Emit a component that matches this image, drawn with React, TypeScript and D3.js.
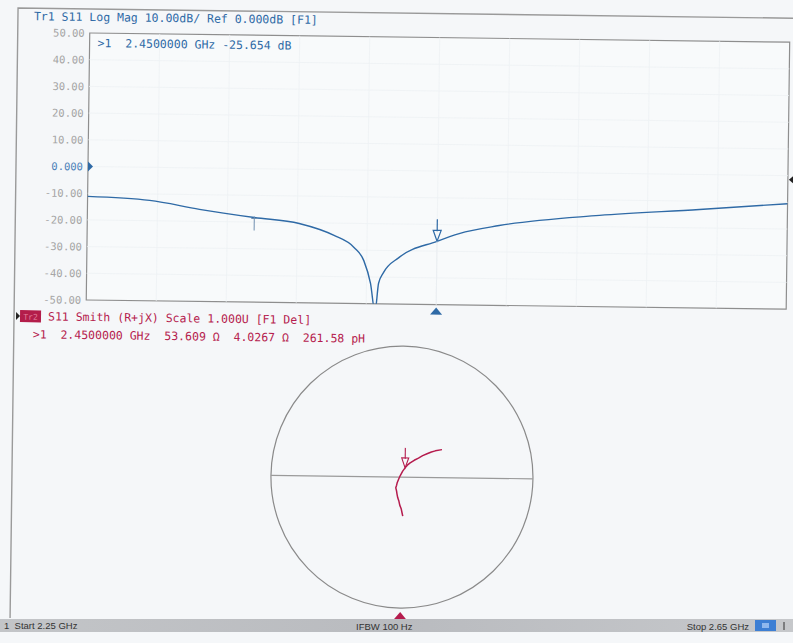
import React from 'react'
import * as d3 from 'd3'

// Tr1: S11 log magnitude (dB) against frequency (GHz)
const freqGHz = [2.25, 2.2855, 2.314, 2.3454, 2.3711, 2.3911, 2.4026, 2.4083, 2.4123, 2.4151, 2.4169, 2.4197, 2.4283, 2.45, 2.4626, 2.4854, 2.5426, 2.5997, 2.65]
const s11dB = [-11.2, -12.4, -15.5, -18.3, -20.3, -24.6, -29.0, -33.9, -42.4, -53.0, -42.3, -38.2, -32.6, -26.3, -23.3, -20.1, -15.8, -13.1, -10.5]

// y axis tick labels
const yTicks = [50, 40, 30, 20, 10, 0, -10, -20, -30, -40, -50]
const yTickLabels = ['50.00', '40.00', '30.00', '20.00', '10.00', '0.000', '-10.00', '-20.00', '-30.00', '-40.00', '-50.00']

// Tr2: S11 on the Smith chart (reflection coefficient, real / imaginary)
const smithRe = [0.010, 0.004, -0.002, -0.014, -0.021, -0.030, -0.036, -0.040, -0.046, -0.040, -0.036, -0.026, -0.015, 0.005, 0.023, 0.040, 0.061, 0.092, 0.124, 0.156, 0.189, 0.222, 0.252, 0.303]
const smithIm = [-0.298, -0.272, -0.244, -0.214, -0.183, -0.158, -0.130, -0.106, -0.082, -0.062, -0.044, -0.018, 0.008, 0.046, 0.071, 0.092, 0.109, 0.130, 0.147, 0.166, 0.181, 0.195, 0.204, 0.214]
const smithMarkerIndex = 14

const markerFreq = 2.45
const refMarkFreq = 2.3454

const tr1Title = 'Tr1 S11 Log Mag 10.00dB/ Ref 0.000dB [F1]'
const tr1Marker = '>1  2.4500000 GHz -25.654 dB'
const tr2Title = 'S11 Smith (R+jX) Scale 1.000U [F1 Del]'
const tr2Marker = '>1  2.4500000 GHz  53.609 \u03a9  4.0267 \u03a9  261.58 pH'

const W = 793
const H = 643
const mono = '"DejaVu Sans Mono", "Liberation Mono", monospace'
const sans = 'Arial, "Liberation Sans", sans-serif'
const blue = '#2f6aa6'
const crimson = '#b51c4e'

export default function App() {
  const plot = { left: 88, right: 788, top: 33, bottom: 300 }
  const x = d3.scaleLinear().domain([2.25, 2.65]).range([plot.left, plot.right])
  const y = d3.scaleLinear().domain([-50, 50]).range([plot.bottom, plot.top])

  const line = d3
    .line<number>()
    .x((_d, i) => x(freqGHz[i]))
    .y((d) => y(d))
    .curve(d3.curveMonotoneX)

  const markerDb = s11dB[freqGHz.indexOf(markerFreq)]
  const refDb = s11dB[freqGHz.indexOf(refMarkFreq)]
  const mx = x(markerFreq)
  const my = y(markerDb)

  // Smith chart
  const cx = 406
  const cy = 473
  const r = 131
  const sx = d3.scaleLinear().domain([-1, 1]).range([cx - r, cx + r])
  const sy = d3.scaleLinear().domain([-1, 1]).range([cy + r, cy - r])
  const smithLine = d3
    .line<number>()
    .x((d) => sx(d))
    .y((_d, i) => sy(smithIm[i]))
    .curve(d3.curveLinear)
  const smx = sx(smithRe[smithMarkerIndex])
  const smy = sy(smithIm[smithMarkerIndex])

  const gridX = d3.range(11).map((i) => plot.left + (i * (plot.right - plot.left)) / 10)

  return (
    <svg
      width={W}
      height={H}
      viewBox={`0 0 ${W} ${H}`}
      style={{ position: 'absolute', left: 0, top: 0, display: 'block' }}
    >
      <defs>
        <clipPath id="plotClip">
          <rect x={plot.left} y={plot.top} width={plot.right - plot.left} height={plot.bottom - plot.top} />
        </clipPath>
        <linearGradient id="barGrad" x1="0" x2="1" y1="0" y2="0">
          <stop offset="0" stopColor="#c3c5c8" />
          <stop offset="0.5" stopColor="#b9bbbf" />
          <stop offset="1" stopColor="#c6c8cb" />
        </linearGradient>
      </defs>
      <rect width={W} height={H} fill="#f5f7f9" />

      <g transform="rotate(0.75, 88, 166)">
        {/* outer frame */}
        <path d="M16,619 L16,9 L805,9" fill="none" stroke="#9a9a9a" strokeWidth={1.4} />

        {/* title */}
        <text x={32} y={21} fontFamily={mono} fontSize={11.5} fill={blue} style={{ whiteSpace: 'pre' }}>
          {tr1Title}
        </text>

        {/* plot area */}
        <rect
          x={plot.left}
          y={plot.top}
          width={plot.right - plot.left}
          height={plot.bottom - plot.top}
          fill="#f8fafb"
          stroke="#8e8e8e"
          strokeWidth={1.2}
        />
        {gridX.slice(1, -1).map((gx) => (
          <line key={gx} x1={gx} x2={gx} y1={plot.top} y2={plot.bottom} stroke="#eef1f4" strokeWidth={0.8} />
        ))}
        {yTicks.slice(1, -1).map((t) => (
          <line key={t} x1={plot.left} x2={plot.right} y1={y(t)} y2={y(t)} stroke="#eef1f4" strokeWidth={0.8} />
        ))}

        {yTicks.map((t, i) => (
          <text
            key={t}
            x={83}
            y={y(t) + 4}
            textAnchor="end"
            fontFamily={mono}
            fontSize={10.5}
            fill={t === 0 ? '#4b7fb8' : '#a4a4a4'}
          >
            {yTickLabels[i]}
          </text>
        ))}

        <text x={96} y={47} fontFamily={mono} fontSize={11.5} fill={blue} style={{ whiteSpace: 'pre' }}>
          {tr1Marker}
        </text>

        <path d={line(s11dB) ?? ''} fill="none" stroke={blue} strokeWidth={1.4} clipPath="url(#plotClip)" />

        {/* reference pointers */}
        <path d={`M${plot.left},${y(0) - 5} L${plot.left + 5},${y(0)} L${plot.left},${y(0) + 5} Z`} fill={blue} />
        <path d={`M${plot.right + 1},${y(0) + 4} L${plot.right + 7},${y(0) - 1} L${plot.right + 7},${y(0) + 9} Z`} fill="#222" />

        {/* small reference mark */}
        <line x1={x(refMarkFreq)} x2={x(refMarkFreq)} y1={y(refDb) - 1} y2={y(refDb) + 13} stroke="#6f8fb0" strokeWidth={1} />
        <line x1={x(refMarkFreq) - 3} x2={x(refMarkFreq) + 3} y1={y(refDb) + 1} y2={y(refDb) + 1} stroke="#6f8fb0" strokeWidth={1} />

        {/* marker 1 */}
        <line x1={mx} x2={mx} y1={my - 22} y2={my - 10} stroke={blue} strokeWidth={1.2} />
        <path d={`M${mx - 4},${my - 11} L${mx + 4},${my - 11} L${mx},${my} Z`} fill="none" stroke={blue} strokeWidth={1.2} />
        <line x1={mx} x2={mx} y1={my} y2={plot.bottom} stroke="#e8ecf0" strokeWidth={0.8} />
        <path d={`M${mx - 6},${plot.bottom + 10} L${mx + 6},${plot.bottom + 10} L${mx},${plot.bottom + 3} Z`} fill={blue} />

        {/* Tr2 header */}
        <path d="M18,313 L22,317 L18,321 Z" fill="#222" />
        <rect x={22} y={311} width={21} height={12} fill="#b31d4a" />
        <text x={32.5} y={320.5} textAnchor="middle" fontFamily={mono} fontSize={8} fill="#e07a98">
          Tr2
        </text>
        <text x={50} y={321} fontFamily={mono} fontSize={11.5} fill={crimson} style={{ whiteSpace: 'pre' }}>
          {tr2Title}
        </text>
        <text x={35} y={339} fontFamily={mono} fontSize={11.5} fill={crimson} style={{ whiteSpace: 'pre' }}>
          {tr2Marker}
        </text>

        {/* Smith chart */}
        <circle cx={cx} cy={cy} r={r} fill="none" stroke="#8a8a8a" strokeWidth={1.2} />
        <line x1={sx(-1)} x2={sx(1)} y1={sy(0)} y2={sy(0)} stroke="#9a9a9a" strokeWidth={1.2} />
        <path d={smithLine(smithRe) ?? ''} fill="none" stroke={crimson} strokeWidth={1.5} strokeLinejoin="round" />
        <line x1={smx} x2={smx} y1={smy - 20} y2={smy - 9} stroke={crimson} strokeWidth={1.1} />
        <path d={`M${smx - 3.5},${smy - 10} L${smx + 3.5},${smy - 10} L${smx},${smy} Z`} fill="none" stroke={crimson} strokeWidth={1.1} />
        <path d={`M${cx - 6},${cy + r + 11} L${cx + 6},${cy + r + 11} L${cx},${cy + r + 4} Z`} fill={crimson} />
      </g>

      {/* status bar */}
      <rect x={0} y={619} width={W} height={13} fill="url(#barGrad)" />
      <text x={4} y={629} fontFamily={sans} fontSize={9.5} fill="#333" style={{ whiteSpace: 'pre' }}>
        {'1  Start 2.25 GHz'}
      </text>
      <text x={356} y={630} fontFamily={sans} fontSize={9.5} fill="#333">
        IFBW 100 Hz
      </text>
      <text x={749} y={630} textAnchor="end" fontFamily={sans} fontSize={9.5} fill="#333">
        Stop 2.65 GHz
      </text>
      <rect x={755} y={620} width={21} height={11} fill="#3d7fd4" />
      <rect x={762} y={623} width={7} height={5} fill="#8fb8ee" />
      <line x1={784} x2={784} y1={622} y2={630} stroke="#333" strokeWidth={1} />
    </svg>
  )
}
